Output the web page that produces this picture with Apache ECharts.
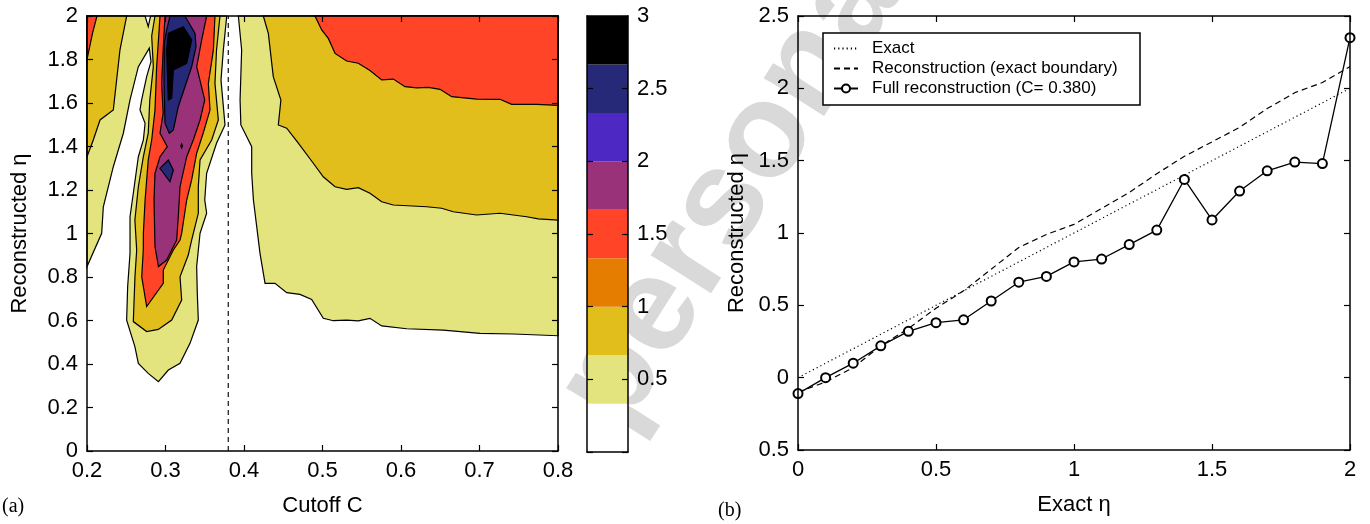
<!DOCTYPE html>
<html>
<head>
<meta charset="utf-8">
<script src="https://cdn.jsdelivr.net/npm/echarts@6/dist/echarts.min.js"></script>
<style>
  html, body { margin: 0; background: #fff; }
  #chart { width: 1370px; height: 524px; }
</style>
</head>
<body>
<div id="chart"></div>
<script>
// ---- colour scale (contour levels) ----
const bandEdges = [0, 0.333, 0.667, 1, 1.333, 1.667, 2, 2.333, 2.667, 3];
const bandColors = ['#ffffff', '#e3e47e', '#e2be1c', '#e57e00', '#ff4427', '#9a327a', '#4e28c2', '#262878', '#000000'];

// ---- panel (a): filled contour regions, [cutoff C, reconstructed eta] ----
const yellowLeft = [[0.2, 0.848], [0.2, 2.0], [0.274, 2.0], [0.278, 1.951], [0.281, 2.0], [0.378, 2.0],
  [0.3737, 1.844], [0.3707, 1.706], [0.3758, 1.499], [0.365, 1.415], [0.3524, 1.277], [0.35, 1.154],
  [0.3524, 1.093], [0.344, 1.001], [0.3397, 0.848], [0.3405, 0.725], [0.3418, 0.602], [0.3312, 0.495],
  [0.3185, 0.403], [0.3036, 0.372], [0.291, 0.319], [0.278, 0.357], [0.2654, 0.403], [0.261, 0.48],
  [0.2505, 0.602], [0.2518, 0.756], [0.2548, 0.909], [0.2548, 1.077], [0.259, 1.185], [0.2654, 1.353],
  [0.2718, 1.43], [0.274, 1.507], [0.2675, 1.568], [0.2696, 1.614], [0.276, 1.721], [0.2815, 1.79],
  [0.2794, 1.852], [0.2654, 1.767], [0.2548, 1.614], [0.2463, 1.461], [0.2335, 1.307], [0.2208, 1.123],
  [0.2187, 1.001]];
const yellowRight = [[0.3928, 2.0], [0.397, 1.844], [0.395, 1.614], [0.396, 1.499], [0.4098, 1.399],
  [0.4098, 1.277], [0.412, 1.154], [0.4204, 0.909], [0.4268, 0.771], [0.4395, 0.771], [0.4544, 0.728],
  [0.4713, 0.72], [0.4862, 0.697], [0.501, 0.61], [0.5138, 0.599], [0.5308, 0.602], [0.5456, 0.598],
  [0.5605, 0.61], [0.5754, 0.575], [0.6073, 0.562], [0.6539, 0.556], [0.7006, 0.541], [0.743, 0.538],
  [0.8, 0.53], [0.8, 2.0]];
const goldLeft = [[0.2, 2.0], [0.2505, 2.0], [0.242, 1.844], [0.2335, 1.568], [0.2166, 1.522], [0.208, 1.43], [0.2, 1.353]];
const goldPlume = [[0.2866, 2.0], [0.3694, 2.0], [0.365, 1.844], [0.363, 1.69], [0.3673, 1.522], [0.3588, 1.43],
  [0.344, 1.338], [0.3418, 1.215], [0.3418, 1.093], [0.3333, 0.97], [0.329, 0.901], [0.3185, 0.801],
  [0.3206, 0.694], [0.3079, 0.602], [0.2908, 0.559], [0.276, 0.549], [0.259, 0.595], [0.2611, 0.801],
  [0.2633, 0.924], [0.261, 1.062], [0.2654, 1.215], [0.2718, 1.353], [0.278, 1.461], [0.28, 1.614],
  [0.2845, 1.767], [0.2824, 1.908]];
const goldRight = [[0.4246, 2.0], [0.431, 1.92], [0.4373, 1.721], [0.447, 1.614], [0.4437, 1.499], [0.4544, 1.484],
  [0.4692, 1.415], [0.4883, 1.323], [0.501, 1.261], [0.516, 1.215], [0.5308, 1.203], [0.5456, 1.211],
  [0.5605, 1.185], [0.5754, 1.146], [0.5902, 1.131], [0.6327, 1.123], [0.6518, 1.116], [0.6666, 1.1],
  [0.6964, 1.085], [0.7261, 1.093], [0.7601, 1.077], [0.7749, 1.067], [0.8, 1.062], [0.8, 2.0]];
const redCorner = [[0.2, 2.0], [0.2127, 2.0], [0.207, 1.92], [0.2, 1.8]];
const redPlume = [[0.293, 2.0], [0.363, 2.0], [0.361, 1.844], [0.3546, 1.69], [0.3567, 1.568], [0.348, 1.461],
  [0.3397, 1.369], [0.3333, 1.246], [0.327, 1.154], [0.3206, 1.001], [0.3185, 0.97], [0.31, 0.924],
  [0.2972, 0.832], [0.2972, 0.771], [0.276, 0.664], [0.2697, 0.801], [0.2717, 0.924], [0.2718, 1.001],
  [0.274, 1.154], [0.278, 1.338], [0.2824, 1.43], [0.2866, 1.568], [0.2887, 1.767], [0.291, 1.89]];
const redRight = [[0.4904, 2.0], [0.499, 1.936], [0.5074, 1.897], [0.516, 1.828], [0.5308, 1.793], [0.5456, 1.783],
  [0.5605, 1.749], [0.5754, 1.706], [0.5902, 1.71], [0.6051, 1.675], [0.62, 1.67], [0.6348, 1.672],
  [0.6497, 1.663], [0.6646, 1.629], [0.6964, 1.618], [0.7261, 1.617], [0.741, 1.594], [0.7729, 1.594],
  [0.8, 1.589], [0.8, 2.0]];
const purplePlume = [[0.2994, 2.0], [0.3524, 2.0], [0.3461, 1.89], [0.3397, 1.767], [0.35, 1.614], [0.344, 1.522],
  [0.3354, 1.43], [0.327, 1.353], [0.3185, 1.215], [0.3163, 1.077], [0.3142, 0.97], [0.3015, 0.878],
  [0.291, 0.848], [0.2866, 0.94], [0.2854, 1.154], [0.2866, 1.277], [0.293, 1.353], [0.3023, 1.399],
  [0.293, 1.461], [0.297, 1.553], [0.2951, 1.69], [0.297, 1.844]];
const navyPlume = [[0.3057, 2.0], [0.3248, 2.0], [0.3376, 1.92], [0.3389, 1.859], [0.3334, 1.767], [0.3248, 1.675],
  [0.3163, 1.583], [0.31, 1.476], [0.3048, 1.461], [0.2994, 1.507], [0.2981, 1.69], [0.2985, 1.874], [0.3015, 1.936]];
const navySpot = [[0.293, 1.30], [0.3036, 1.338], [0.31, 1.292], [0.3057, 1.238]];
const blackCore = [[0.3036, 1.92], [0.3227, 1.951], [0.3334, 1.89], [0.327, 1.782], [0.31, 1.752], [0.3079, 1.622],
  [0.3036, 1.614], [0.3015, 1.844]];
const blackDot = [[0.3195, 1.402], [0.3206, 1.393], [0.3217, 1.402], [0.3206, 1.411]];
const chosenCutoff = 0.38;

// ---- panel (b) ----
const exactEta = [0, 0.1, 0.2, 0.3, 0.4, 0.5, 0.6, 0.7, 0.8, 0.9, 1.0, 1.1, 1.2, 1.3, 1.4, 1.5, 1.6, 1.7, 1.8, 1.9, 2.0];
const exactLine = [0, 0.1, 0.2, 0.3, 0.4, 0.5, 0.6, 0.7, 0.8, 0.9, 1.0, 1.1, 1.2, 1.3, 1.4, 1.5, 1.6, 1.7, 1.8, 1.9, 2.0];
const boundaryRecon = [-0.1, -0.03, 0.07, 0.22, 0.34, 0.48, 0.6, 0.75, 0.9, 0.99, 1.06, 1.17, 1.28, 1.41, 1.53, 1.63, 1.73, 1.86, 1.97, 2.04, 2.15];
const fullRecon = [-0.11, 0.0, 0.1, 0.22, 0.32, 0.38, 0.40, 0.53, 0.66, 0.70, 0.80, 0.82, 0.92, 1.02, 1.37, 1.09, 1.29, 1.43, 1.49, 1.48, 2.35];
const legendNames = ['Exact', 'Reconstruction (exact boundary)', 'Full reconstruction (C= 0.380)'];

// painter order: lower levels first
const regions = [
  { pts: yellowLeft, level: 1 }, { pts: yellowRight, level: 1 },
  { pts: goldLeft, level: 2 }, { pts: goldPlume, level: 2 }, { pts: goldRight, level: 2 },
  { pts: redCorner, level: 4 }, { pts: redPlume, level: 4 }, { pts: redRight, level: 4 },
  { pts: purplePlume, level: 5 }, { pts: navyPlume, level: 7 }, { pts: navySpot, level: 7 },
  { pts: blackCore, level: 8 }, { pts: blackDot, level: 8 }
];

const FONT = '"Liberation Sans", Arial, Helvetica, sans-serif';
const axLine = { show: true, onZero: false, lineStyle: { color: '#000', width: 1.5 } };
const axTick = { show: true, inside: true, length: 6, lineStyle: { color: '#000', width: 1.2 } };
const axLabel = { color: '#000', fontSize: 22, fontFamily: FONT, margin: 9 };
const nameStyle = { color: '#000', fontSize: 22, fontFamily: FONT };

function valueAxis(opts) {
  return Object.assign({
    type: 'value', axisLine: axLine, axisTick: axTick, axisLabel: axLabel,
    splitLine: { show: false }, z: 10
  }, opts);
}
const noLabel = { show: false };

const chart = echarts.init(document.getElementById('chart'));

chart.setOption({
  animation: false,
  color: ['#000'],
  textStyle: { fontFamily: FONT },
  grid: [
    { left: 87, top: 16, width: 471, height: 435, outerBoundsMode: 'none' },
    { left: 587, top: 16, width: 41, height: 436, outerBoundsMode: 'none' },
    { left: 798, top: 16, width: 552, height: 434, outerBoundsMode: 'none' }
  ],
  xAxis: [
    valueAxis({ gridIndex: 0, min: 0.2, max: 0.8, interval: 0.1, name: 'Cutoff C',
      nameLocation: 'middle', nameGap: 44, nameTextStyle: nameStyle }),
    valueAxis({ gridIndex: 0, position: 'top', min: 0.2, max: 0.8, interval: 0.1, axisLabel: noLabel }),
    valueAxis({ gridIndex: 1, min: 0, max: 1, axisTick: noLabel, axisLabel: noLabel }),
    valueAxis({ gridIndex: 1, position: 'top', min: 0, max: 1, axisTick: noLabel, axisLabel: noLabel }),
    valueAxis({ gridIndex: 2, min: 0, max: 2, interval: 0.5, name: 'Exact η',
      nameLocation: 'middle', nameGap: 44, nameTextStyle: nameStyle }),
    valueAxis({ gridIndex: 2, position: 'top', min: 0, max: 2, interval: 0.5, axisLabel: noLabel })
  ],
  yAxis: [
    valueAxis({ gridIndex: 0, min: 0, max: 2, interval: 0.2, name: 'Reconstructed η',
      nameLocation: 'middle', nameGap: 56, nameTextStyle: nameStyle }),
    valueAxis({ gridIndex: 0, position: 'right', min: 0, max: 2, interval: 0.2, axisLabel: noLabel }),
    valueAxis({ gridIndex: 1, position: 'right', min: 0, max: 3, interval: 0.5,
      axisLabel: Object.assign({}, axLabel, { formatter: v => (v === 0 ? '' : String(v)) }) }),
    valueAxis({ gridIndex: 1, position: 'left', min: 0, max: 3, interval: 0.5, axisLabel: noLabel }),
    valueAxis({ gridIndex: 2, min: -0.5, max: 2.5, interval: 0.5, name: 'Reconstructed η',
      nameLocation: 'middle', nameGap: 50, nameTextStyle: nameStyle,
      axisLabel: Object.assign({}, axLabel, { formatter: v => String(Math.abs(v)) }) }),
    valueAxis({ gridIndex: 2, position: 'right', min: -0.5, max: 2.5, interval: 0.5, axisLabel: noLabel })
  ],
  legend: {
    data: [
      { name: legendNames[0], itemStyle: { opacity: 0 } },
      { name: legendNames[1], itemStyle: { opacity: 0 } },
      { name: legendNames[2] }
    ],
    left: 833, top: 40, orient: 'vertical', padding: 0,
    itemWidth: 24, itemHeight: 10, itemGap: 3, z: 6, selectedMode: false,
    textStyle: { color: '#000', fontSize: 17, fontFamily: FONT, padding: [0, 0, 0, 9] }
  },
  graphic: [
    { type: 'text', x: 590, y: 414, rotation: 57.5 * Math.PI / 180, z: 0, silent: true,
      style: { text: 'personal', fill: '#d9d9d9', font: 'bold 135px "Liberation Sans"', align: 'left', verticalAlign: 'middle' } },
    { type: 'rect', z: 5, silent: true, shape: { x: 823, y: 33, width: 317, height: 72 },
      style: { fill: '#fff', stroke: '#000', lineWidth: 1.5 } },
    { type: 'text', x: 2, y: 507, silent: true,
      style: { text: '(a)', fill: '#000', font: '20px "Liberation Serif"', verticalAlign: 'middle' } },
    { type: 'text', x: 718, y: 511, silent: true,
      style: { text: '(b)', fill: '#000', font: '20px "Liberation Serif"', verticalAlign: 'middle' } }
  ],
  series: [
    {
      type: 'custom', name: 'contours', xAxisIndex: 0, yAxisIndex: 0, z: 2, silent: true,
      data: regions.map((r, i) => [i]),
      renderItem: (params, api) => {
        const r = regions[params.dataIndex];
        return {
          type: 'polygon',
          shape: { points: r.pts.map(p => api.coord(p)) },
          style: { fill: bandColors[r.level], stroke: '#000', lineWidth: 1.2 }
        };
      }
    },
    {
      type: 'line', name: 'cutoff', xAxisIndex: 0, yAxisIndex: 0, z: 3, silent: true,
      data: [[chosenCutoff, 0], [chosenCutoff, 2]], symbol: 'none',
      lineStyle: { color: '#222', width: 1.3, type: [5, 4] }
    },
    {
      type: 'custom', name: 'colorbar', xAxisIndex: 2, yAxisIndex: 2, z: 2, silent: true,
      data: bandColors.map((c, i) => [i]),
      renderItem: (params, api) => {
        const i = params.dataIndex;
        const p0 = api.coord([0, bandEdges[i]]);
        const p1 = api.coord([1, bandEdges[i + 1]]);
        return {
          type: 'rect',
          shape: { x: p0[0], y: p1[1], width: p1[0] - p0[0], height: p0[1] - p1[1] },
          style: { fill: bandColors[i] }
        };
      }
    },
    {
      type: 'line', name: legendNames[0], xAxisIndex: 4, yAxisIndex: 4, z: 3,
      data: exactEta.map((x, i) => [x, exactLine[i]]), symbol: 'none',
      itemStyle: { color: '#000' },
      lineStyle: { color: '#000', width: 1.2, type: [1.2, 3] }
    },
    {
      type: 'line', name: legendNames[1], xAxisIndex: 4, yAxisIndex: 4, z: 3,
      data: exactEta.map((x, i) => [x, boundaryRecon[i]]), symbol: 'none',
      itemStyle: { color: '#000' },
      lineStyle: { color: '#000', width: 1.2, type: [6, 4] }
    },
    {
      type: 'line', name: legendNames[2], xAxisIndex: 4, yAxisIndex: 4, z: 3,
      data: exactEta.map((x, i) => [x, fullRecon[i]]),
      symbol: 'emptyCircle', symbolSize: 9,
      itemStyle: { color: '#000', borderWidth: 1.2 },
      lineStyle: { color: '#000', width: 1.3 }
    }
  ]
});
</script>
</body>
</html>
